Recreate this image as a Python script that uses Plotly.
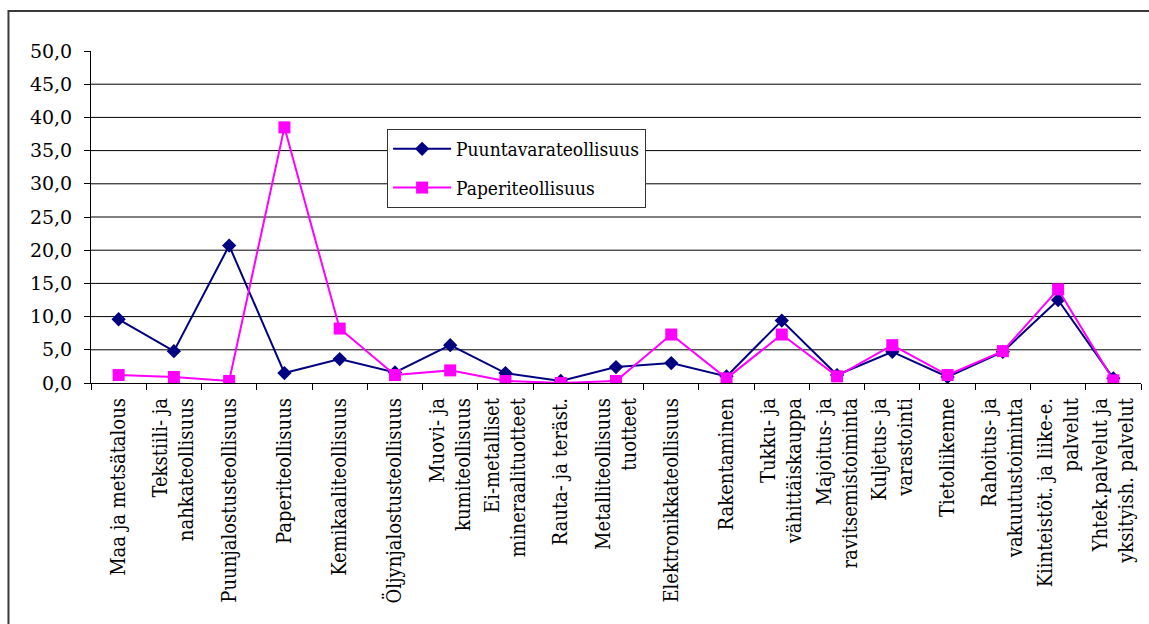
import plotly.graph_objects as go

# Toimialat (x-akselin luokat)
categories = [
    "Maa ja metsätalous",
    "Tekstiili- ja<br>nahkateollisuus",
    "Puunjalostusteollisuus",
    "Paperiteollisuus",
    "Kemikaaliteollisuus",
    "Öljynjalostusteollisuus",
    "Muovi- ja<br>kumiteollisuus",
    "Ei-metalliset<br>mineraalituotteet",
    "Rauta- ja teräst.",
    "Metalliteollisuus<br>tuotteet",
    "Elektronikkateollisuus",
    "Rakentaminen",
    "Tukku- ja<br>vähittäiskauppa",
    "Majoitus- ja<br>ravitsemistoiminta",
    "Kuljetus- ja<br>varastointi",
    "Tietoliikenne",
    "Rahoitus- ja<br>vakuutustoiminta",
    "Kiinteistöt. ja liike-e.<br>palvelut",
    "Yhtek.palvelut ja<br>yksityish. palvelut",
]

puuntavarateollisuus = [9.6, 4.8, 20.7, 1.5, 3.6, 1.6, 5.7, 1.5, 0.3, 2.4,
                        3.0, 1.0, 9.4, 1.2, 4.7, 0.9, 4.7, 12.5, 0.7]
paperiteollisuus = [1.2, 0.9, 0.3, 38.5, 8.2, 1.2, 1.9, 0.3, 0.0, 0.3,
                    7.3, 0.7, 7.3, 1.0, 5.7, 1.2, 4.8, 14.1, 0.4]

y_ticks = [0, 5, 10, 15, 20, 25, 30, 35, 40, 45, 50]
grid_levels = [5, 10, 15, 20, 25, 30, 35, 40, 45]

SERIF = "DejaVu Serif"
SERIF_NARROW = "DejaVu Serif Condensed, DejaVu Serif"

fig = go.Figure()
fig.add_trace(go.Scatter(
    x=categories, y=puuntavarateollisuus, name="Puuntavarateollisuus",
    mode="lines+markers", legendgroup="a",
    line=dict(color="#000080", width=2),
    marker=dict(symbol="diamond", size=11, color="#000080"),
))
fig.add_trace(go.Scatter(
    x=categories, y=paperiteollisuus, name="Paperiteollisuus",
    mode="lines+markers", legendgroup="b",
    line=dict(color="#FF00FF", width=2),
    marker=dict(symbol="square", size=12, color="#FF00FF"),
))

# vaakasuorat apuviivat
for g in grid_levels:
    fig.add_shape(type="line", xref="paper", yref="y", x0=0, x1=1, y0=g, y1=g,
                  line=dict(color="black", width=1), layer="below")

# kaavion kehys
fig.add_shape(type="rect", xref="paper", yref="paper",
              x0=-0.0786, x1=1.2, y0=-1.2, y1=1.1205,
              line=dict(color="#3a3a3a", width=2), layer="below")

fig.update_layout(
    width=1149, height=624,
    margin=dict(l=91, r=8, t=51, b=241),
    paper_bgcolor="white", plot_bgcolor="white",
    separators=", ",
    font=dict(family=SERIF, size=19, color="black"),
    showlegend=True,
    legend=dict(
        x=0.282, y=0.765, xanchor="left", yanchor="top",
        bgcolor="white", bordercolor="#333333", borderwidth=1,
        font=dict(family=SERIF_NARROW, size=19, color="black"),
        tracegroupgap=11, traceorder="grouped", itemwidth=58,
    ),
    xaxis=dict(
        type="category", tickson="boundaries", showgrid=False,
        showline=True, linecolor="black", linewidth=1,
        ticks="outside", ticklen=6, tickcolor="black", tickangle=-90,
        tickfont=dict(family=SERIF_NARROW, size=20), range=[-0.5, 18.5],
        ticklabelstandoff=6,
    ),
    yaxis=dict(
        range=[0, 50], tickvals=y_ticks, tickformat=".1f", showgrid=False,
        zeroline=False, showline=True, linecolor="black", linewidth=1,
        ticks="outside", ticklen=6, tickcolor="black",
        tickfont=dict(family=SERIF, size=19), ticklabelstandoff=8,
    ),
)

fig.write_html("out.html")
